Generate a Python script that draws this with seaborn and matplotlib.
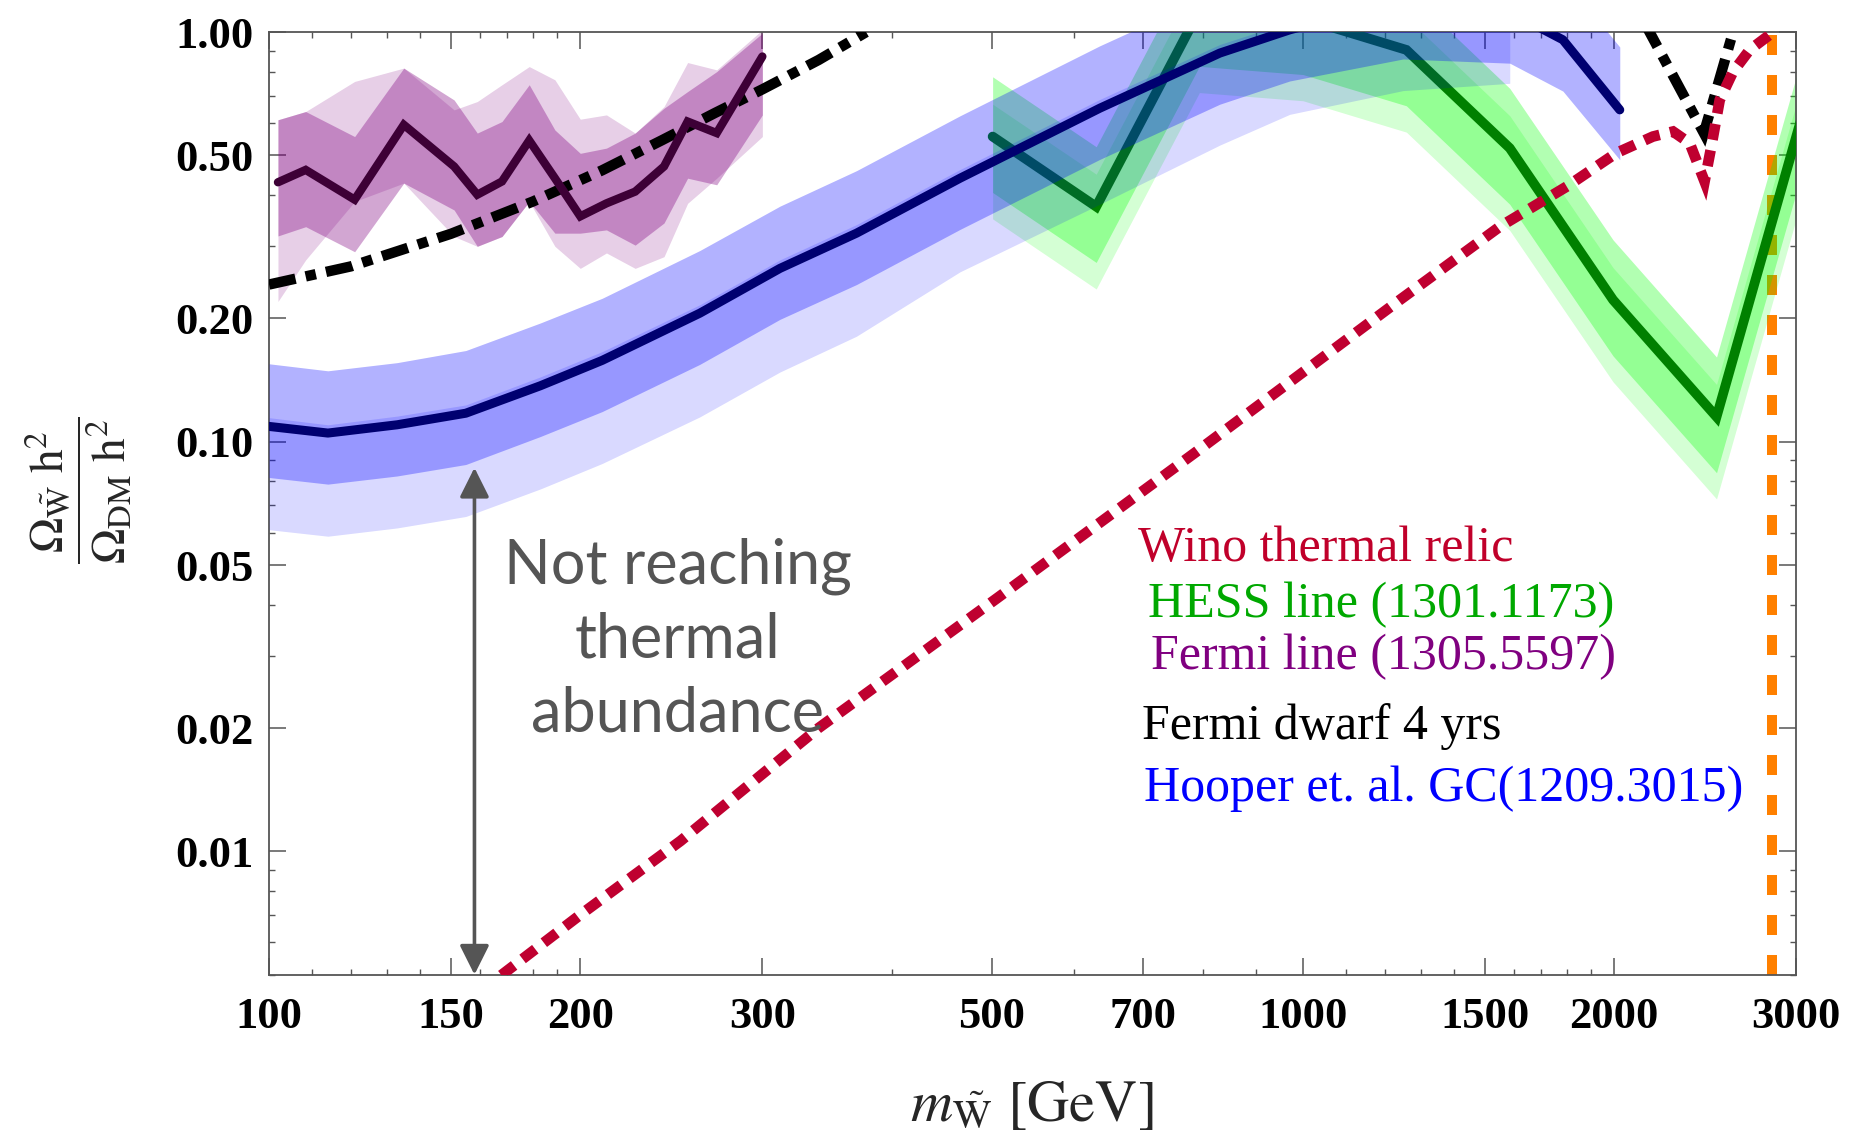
import numpy as np
import pandas as pd
import matplotlib
matplotlib.use("Agg")
import matplotlib.pyplot as plt
import seaborn as sns
from matplotlib.ticker import FixedLocator, NullFormatter

nan = np.nan

# ---------------- data ----------------
# Hooper et al. GC (1209.3015)
hooper_mass = [100, 114, 133, 155, 183, 210, 261, 312, 370, 466, 636, 831, 971, 1250, 1585, 1784, 2025]
hooper_mid = [0.109, 0.105, 0.110, 0.1174, 0.137, 0.158, 0.206, 0.265, 0.323, 0.44, 0.652, 0.889, 1.013, 1.2, 1.12, 0.958, 0.646]
hooper_up_hi = [0.155, 0.149, 0.156, 0.167, 0.195, 0.224, 0.293, 0.376, 0.459, 0.625, 0.926, 1.26, 1.44, 1.70, 1.59, 1.36, 0.92]
hooper_up_lo = [0.0818, 0.0788, 0.0825, 0.088, 0.103, 0.1185, 0.1545, 0.199, 0.242, 0.33, 0.489, 0.667, 0.76, 0.86, 0.84, 0.718, 0.488]
hooper_dn_hi = [0.1145, 0.110, 0.1155, 0.123, 0.144, 0.166, 0.216, 0.278, 0.339, 0.462, 0.685, 0.933, 1.06, 1.26, 1.18, nan, nan]
hooper_dn_lo = [0.061, 0.0588, 0.0616, 0.0657, 0.0767, 0.0885, 0.115, 0.148, 0.181, 0.26, 0.38, 0.53, 0.63, 0.72, 0.75, nan, nan]

# Fermi line (1305.5597)
fermi_mass = [102, 108.5, 121, 135, 151, 159, 168, 178.5, 189, 200, 212, 226, 241, 254, 271, 300]
fermi_mid = [0.430, 0.461, 0.390, 0.594, 0.470, 0.401, 0.432, 0.544, 0.440, 0.355, 0.382, 0.408, 0.470, 0.605, 0.567, 0.872]
fermi_a_hi = [0.611, 0.640, 0.556, 0.817, 0.683, 0.567, 0.605, 0.744, 0.577, 0.506, 0.521, 0.567, 0.652, 0.716, 0.801, 0.994]
fermi_a_lo = [0.318, 0.335, 0.291, 0.428, 0.368, 0.300, 0.317, 0.386, 0.323, 0.323, 0.329, 0.302, 0.342, 0.440, 0.424, 0.628]
fermi_b_hi = [0.611, 0.640, 0.758, 0.817, 0.646, 0.677, 0.744, 0.824, 0.765, 0.613, 0.628, 0.567, 0.658, 0.843, 0.809, 1.013]
fermi_b_lo = [0.220, 0.278, 0.386, 0.428, 0.317, 0.300, 0.317, 0.386, 0.300, 0.265, 0.289, 0.265, 0.283, 0.382, 0.440, 0.556]

# HESS line (1301.1173)
hess_mass = [501, 631, 794, 1000, 1259, 1585, 1995, 2512, 3162]
hess_mid = [0.556, 0.375, 1.13, 1.08, 0.905, 0.521, 0.222, 0.115, 0.887]
hess_up_hi = [0.778, 0.525, 1.58, 1.51, 1.267, 0.729, 0.311, 0.161, 1.242]
hess_up_lo = [0.406, 0.274, 0.825, 0.788, 0.661, 0.380, 0.162, 0.084, 0.648]
hess_dn_hi = [0.667, 0.450, 1.356, 1.296, 1.086, 0.625, 0.266, 0.138, 1.064]
hess_dn_lo = [0.350, 0.236, 0.712, 0.680, 0.570, 0.328, 0.140, 0.0725, 0.559]

# Fermi dwarf 4 yrs
dwarf_mass_lo = [100, 120, 150, 180, 210, 240, 270, 300, 340, 378]
dwarf_omega_lo = [0.242, 0.268, 0.322, 0.386, 0.46, 0.545, 0.635, 0.725, 0.855, 1.0]
dwarf_mass_hi = [2140, 2442, 2620]
dwarf_omega_hi = [1.054, 0.567, 1.048]

# Wino thermal relic
wino_mass = [160, 200, 250, 340, 506, 788, 1241, 1550, 1800, 2010, 2180, 2280, 2366, 2446, 2483, 2530, 2606, 2704, 2850]
wino_omega = [0.00455, 0.0070, 0.0106, 0.0200, 0.0415, 0.0944, 0.222, 0.335, 0.42, 0.507, 0.556, 0.572, 0.536, 0.432, 0.526, 0.683, 0.80, 0.905, 1.0]
wino_thermal_mass = 2840

arrow_mass = 158
arrow_bottom, arrow_top = 0.005, 0.0864

x_ticks = [100, 150, 200, 300, 500, 700, 1000, 1500, 2000, 3000]
x_minor = [110, 120, 130, 140, 160, 170, 180, 190, 400, 600, 800, 900,
           1100, 1200, 1300, 1400, 1600, 1700, 1800, 1900]
y_ticks = [0.01, 0.02, 0.05, 0.10, 0.20, 0.50, 1.00]
y_labels = ["0.01", "0.02", "0.05", "0.10", "0.20", "0.50", "1.00"]

legend_texts = ["Wino thermal relic", "HESS line (1301.1173)", "Fermi line (1305.5597)",
                "Fermi dwarf 4 yrs", "Hooper et. al. GC(1209.3015)"]
legend_colors = ["#c0002a", "#00a800", "#800080", "#000000", "#0000ff"]

# ---------------- style ----------------
sns.set_theme(style="ticks")
plt.rcParams["font.family"] = ["Liberation Serif", "DejaVu Serif"]
plt.rcParams["mathtext.fontset"] = "stix"

fig = plt.figure(figsize=(18.75, 11.48), dpi=100)
ax = fig.add_axes([0.1435, 0.151, 0.958 - 0.1435, 0.972 - 0.151])
ax.set_xscale("log")
ax.set_yscale("log")

# orange vertical line (below green bands)
ax.axvline(wino_thermal_mass, color="#ff8000", lw=7.2, linestyle=(0, (2.0, 2.0)), zorder=1)

# HESS bands + line
ax.fill_between(hess_mass, hess_up_lo, hess_up_hi, color=(0, 1, 0), alpha=0.30, lw=0, zorder=2)
ax.fill_between(hess_mass, hess_dn_lo, hess_dn_hi, color=(0, 1, 0), alpha=0.17, lw=0, zorder=2)
sns.lineplot(x=hess_mass, y=hess_mid, ax=ax, color="#008000", linewidth=7.0,
             solid_joinstyle="miter", zorder=3)

# Hooper bands + line
ax.fill_between(hooper_mass, hooper_up_lo, hooper_up_hi, color=(0, 0, 1), alpha=0.30, lw=0, zorder=4)
ax.fill_between(hooper_mass, hooper_dn_lo, hooper_dn_hi, color=(0, 0, 1), alpha=0.15, lw=0, zorder=4)
sns.lineplot(x=hooper_mass, y=hooper_mid, ax=ax, color="#000070", linewidth=6.5, zorder=5)

# Fermi line bands
ax.fill_between(fermi_mass, fermi_a_lo, fermi_a_hi, color="#800080", alpha=0.35, lw=0, zorder=2)
ax.fill_between(fermi_mass, fermi_b_lo, fermi_b_hi, color="#800080", alpha=0.19, lw=0, zorder=2)

# Fermi dwarf (dash-dot)
sns.lineplot(x=dwarf_mass_lo, y=dwarf_omega_lo, ax=ax, color="black", linewidth=7.5,
             linestyle=(0, (2.6, 1.0, 1.0, 1.0)), zorder=3)
sns.lineplot(x=dwarf_mass_hi, y=dwarf_omega_hi, ax=ax, color="black", linewidth=7.5,
             linestyle=(0, (2.6, 1.0, 1.0, 1.0)), dash_joinstyle="miter", zorder=6)

# Fermi line central
sns.lineplot(x=fermi_mass, y=fermi_mid, ax=ax, color="#3d0036", linewidth=6.0,
             solid_joinstyle="miter", zorder=4)

# Wino thermal relic
sns.lineplot(x=wino_mass, y=wino_omega, ax=ax, color="#bf0030", linewidth=7.7,
             linestyle=(0, (1.5, 1.0)), dash_joinstyle="miter", zorder=7)

ax.set_xlim(100, 3000)
ax.set_ylim(0.005, 1.0)

# arrow and annotation
ax.annotate("", xy=(arrow_mass, arrow_top), xytext=(arrow_mass, arrow_bottom),
            arrowprops=dict(arrowstyle="<|-|>,head_length=0.9,head_width=0.45",
                            color="#555555", lw=2.6, mutation_scale=20,
                            shrinkA=0, shrinkB=0), zorder=8)
ax.text(0.2677, 0.355, "Not reaching\nthermal\nabundance", transform=ax.transAxes,
        ha="center", va="center", fontsize=44, color="#555555",
        family=["Lato", "DejaVu Sans"], fontweight="normal", linespacing=1.36, zorder=8)

# legend-like labels
leg_x = [0.5693, 0.5756, 0.5772, 0.5717, 0.5732]
leg_y = [0.4515, 0.392, 0.3374, 0.2637, 0.1977]
for t, c, lx, ly in zip(legend_texts, legend_colors, leg_x, leg_y):
    ax.text(lx, ly, t, transform=ax.transAxes, ha="left", va="center",
            fontsize=36, color=c, zorder=9)

# ticks
ax.xaxis.set_major_locator(FixedLocator(x_ticks))
ax.xaxis.set_minor_locator(FixedLocator(x_minor))
ax.xaxis.set_minor_formatter(NullFormatter())
ax.set_xticklabels([str(v) for v in x_ticks])
ax.yaxis.set_major_locator(FixedLocator(y_ticks))
ax.set_yticklabels(y_labels)
ax.yaxis.set_minor_locator(matplotlib.ticker.LogLocator(base=10, subs=np.arange(2, 10), numticks=20))
ax.yaxis.set_minor_formatter(NullFormatter())

ax.tick_params(which="both", direction="in", top=True, right=True, color="#555555")
ax.tick_params(which="major", length=12, width=1.1, labelsize=32)
ax.tick_params(which="minor", length=4.5, width=1.0)
ax.tick_params(axis="x", which="major", pad=16)
ax.tick_params(axis="y", which="major", pad=11)
for lbl in ax.get_xticklabels() + ax.get_yticklabels():
    lbl.set_fontweight("bold")
    lbl.set_color("black")

for sp in ax.spines.values():
    sp.set_color("#555555")
    sp.set_linewidth(1.3)

ax.set_xlabel("")
ax.set_ylabel("")

fig.text(78 / 1875, 1 - 490 / 1148,
         r"$\dfrac{\Omega_{\tilde{\mathrm{W}}}\ \mathrm{h}^2}{\Omega_{\mathrm{DM}}\ \mathrm{h}^2}$",
         rotation=90, ha="center", va="center", fontsize=34)
fig.text(0.55, 1 - 1106 / 1148, r"$m_{\tilde{\mathrm{W}}}\ \mathrm{[GeV]}$",
         ha="center", va="center", fontsize=42)

fig.savefig("out.png", dpi=100)
